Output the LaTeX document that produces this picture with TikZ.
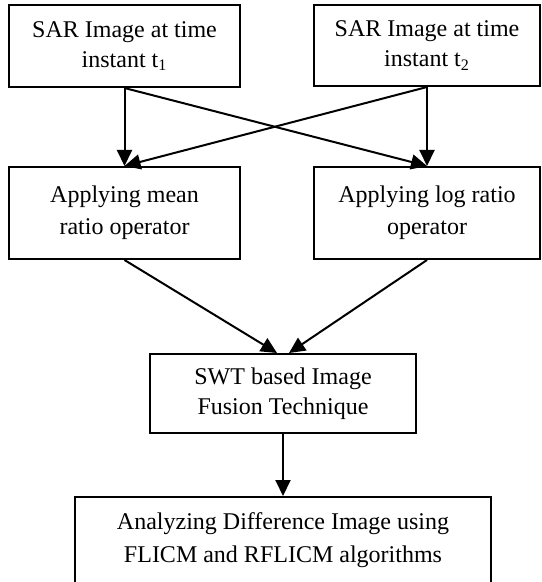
\documentclass[tikz,border=0pt]{standalone}
\usepackage{fontspec}
\setmainfont{Liberation Serif}
\usetikzlibrary{arrows, arrows.meta}
\usetikzlibrary{positioning}

\begin{document}
\begin{tikzpicture}[x=0.5pt, y=-0.5pt,
	box/.style={draw, line width=1pt, align=center, inner sep=0pt, font=\fontsize{12pt}{15pt}\selectfont},
	arr/.style={line width=1pt, -{Triangle[length=8pt, width=7.5pt]}}]
					% page size
					\useasboundingbox (0,0) rectangle (541,582);
					% two input images
					\node[box, minimum width=115.5pt, minimum height=41pt] (sar1) at (124.5,46) {SAR Image at time\\instant t\textsubscript{1}};
					\node[box, minimum width=113pt, minimum height=40.5pt] (sar2) at (427,45.5) {SAR Image at time\\instant t\textsubscript{2}};
					% ratio operators
					\node[box, minimum width=115.5pt, minimum height=46pt, font=\fontsize{12pt}{16pt}\selectfont] (mean) at (124.5,213) {Applying mean\\ratio operator};
					\node[box, minimum width=113pt, minimum height=46pt, font=\fontsize{12pt}{16pt}\selectfont] (logr) at (427,213) {Applying log ratio\\operator};
					% fusion and result
					\node[box, minimum width=133pt, minimum height=39.5pt] (swt) at (283,393.5) {SWT based Image\\Fusion Technique};
					\node[box, minimum width=208pt, anchor=north, inner ysep=8pt, text depth=20pt, font=\fontsize{12pt}{16.5pt}\selectfont] (result) at (283,496) {Analyzing Difference Image using\\FLICM and RFLICM algorithms};
					
					% arrows
					\draw[arr] (sar1.south) -- (mean.north);
					\draw[arr] (sar2.south) -- (logr.north);
					\draw[arr] (sar1.south) -- (logr.north);
					\draw[arr] (sar2.south) -- (mean.north);
					\draw[arr] (mean.south) -- ([xshift=-3pt]swt.north);
					\draw[arr] (logr.south) -- ([xshift=3pt]swt.north);
					\draw[arr] (swt.south) -- (result.north);
				\end{tikzpicture}
\end{document}
